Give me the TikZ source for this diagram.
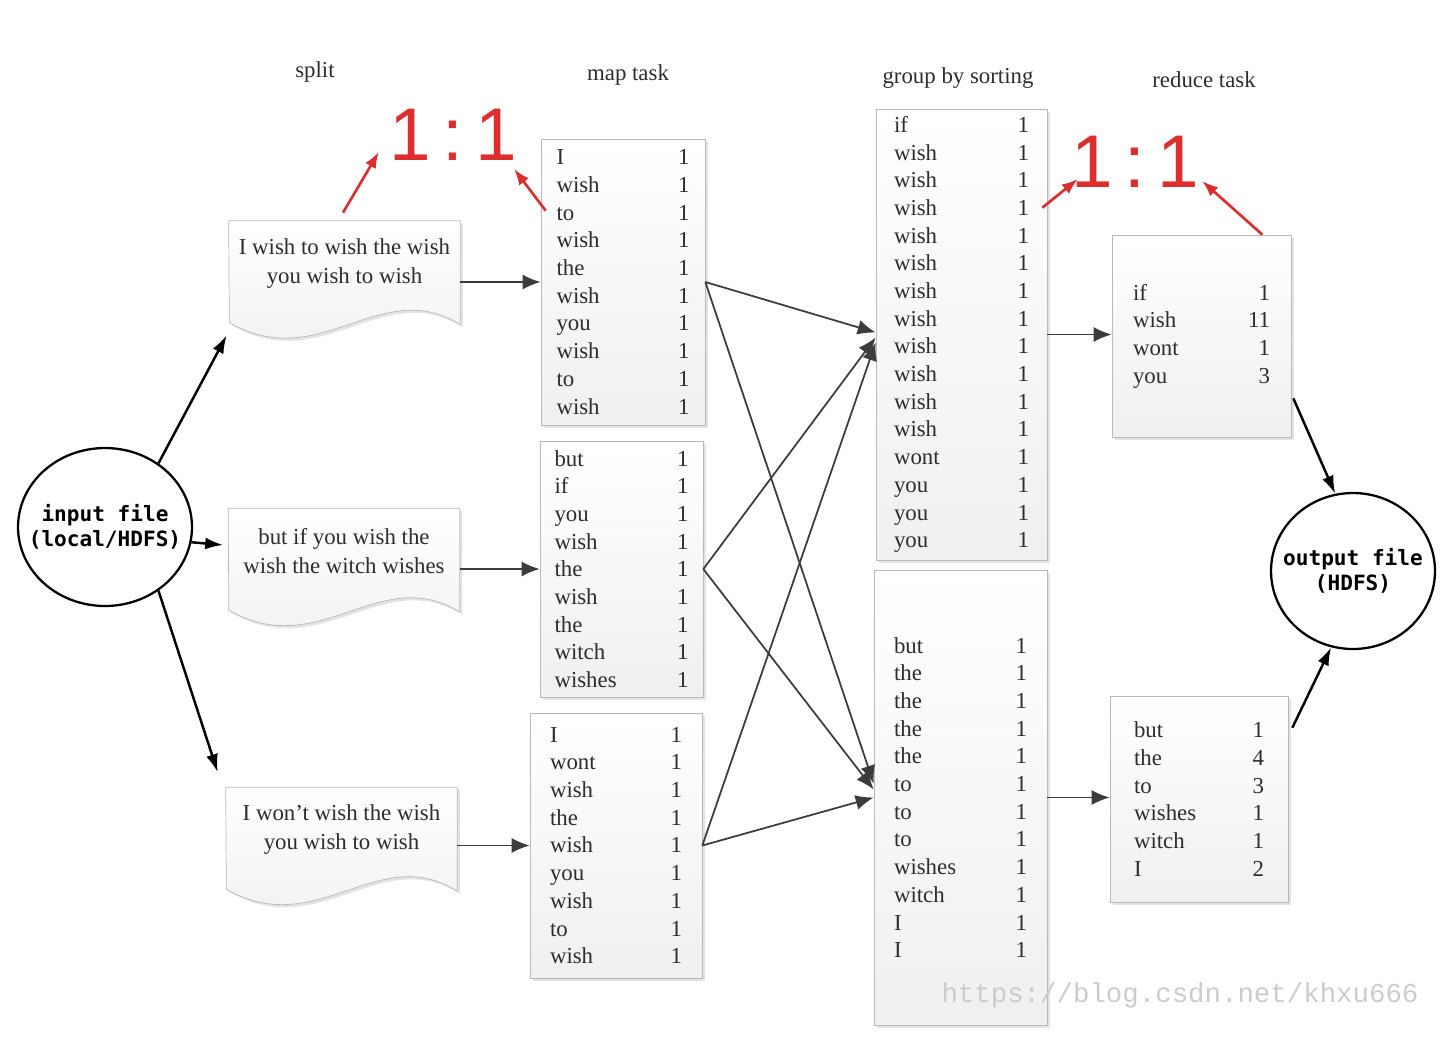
\documentclass[tikz,border=0pt]{standalone}
\usepackage{fontspec}
\setmainfont{Liberation Serif}
\newfontfamily\iofont{DejaVu Sans Mono}
\newfontfamily\ratiofont{Liberation Sans}
\newfontfamily\markfont{Liberation Mono}
\usetikzlibrary{shapes.geometric,arrows.meta,calc,shadows,backgrounds}

\definecolor{ratiored}{RGB}{222,45,45}
\definecolor{inkgray}{RGB}{45,45,45}
\definecolor{linegray}{RGB}{60,60,60}

\tikzset{
  wordbox/.style={draw=gray!55, line width=0.4pt, top color=white, bottom color=gray!12,
    drop shadow={opacity=0.22, shadow xshift=1.5pt, shadow yshift=-1.5pt},
    inner sep=0pt, align=left, text=inkgray, font=\fontsize{13}{15.76}\selectfont},
  docbox/.style={minimum width=4.62cm, minimum height=1.7cm, inner sep=0pt, align=center,
    text=inkgray, font=\fontsize{13}{16.5}\selectfont},
  docline/.style={draw=gray!55, line width=0.4pt, top color=white, bottom color=gray!12,
    drop shadow={opacity=0.22, shadow xshift=1.5pt, shadow yshift=-1.5pt}},
  iofile/.style={ellipse, draw, line width=1.3pt, inner sep=0pt},
  iotext/.style={align=center, font=\iofont\bfseries\fontsize{12}{14}\selectfont},
  title/.style={text=inkgray, font=\fontsize{13}{15}\selectfont},
  ratio/.style={text=ratiored, inner sep=0pt, font=\ratiofont\fontsize{42.5}{45}\selectfont},
  watermark/.style={text=gray!40, font=\markfont\fontsize{15.6}{17}\selectfont},
  blackarrow/.style={line width=1.4pt, -{Latex[length=0.36cm,width=0.24cm]}},
  grayarrow/.style={draw=linegray, line width=1pt, -{Latex[length=0.36cm,width=0.3cm]}},
  redarrow/.style={draw=ratiored, line width=1.5pt, -{Latex[length=0.32cm,width=0.24cm]}},
}

\begin{document}
\begin{tikzpicture}[x=0.02cm,y=-0.02cm]
\useasboundingbox (0,0) rectangle (1450,1036);

% column titles
\node[title] (tsplit) at (315,72) {split};
\node[title] (tmap) at (628,75) {map task};
\node[title] (tgroup) at (958,78) {group by sorting};
\node[title] (treduce) at (1204,80) {reduce task};

% input and output files
\node[iofile, minimum width=3.48cm, minimum height=3.16cm,
  label={[iotext]center:input file\\(local/HDFS)}] (input) at (105,527) {};
\node[iofile, minimum width=3.28cm, minimum height=3.12cm,
  label={[iotext]center:output file\\(HDFS)}] (output) at (1353,571) {};

% split
\node[docbox] (doc1) at (344.5,263.5) {I wish to wish the wish\\you wish to wish};
\node[docbox] (doc2) at (344,551) {but if you wish the\\wish the witch wishes};
\node[docbox] (doc3) at (341.5,830) {I won't wish the wish\\you wish to wish};
\begin{scope}[on background layer]
\foreach \d in {doc1,doc2,doc3}
  \path[docline] (\d.north west) -- (\d.north east) -- ++(0,104)
    .. controls +(-80,-50) and +(91,52) .. ++(-231,-2) -- cycle;
\end{scope}

% map task
\node[wordbox, minimum width=3.28cm, minimum height=5.72cm, text width=2.66cm] (map1) at (623,282)
  {I\hfill 1\\wish\hfill 1\\to\hfill 1\\wish\hfill 1\\the\hfill 1\\wish\hfill 1\\you\hfill 1\\wish\hfill 1\\to\hfill 1\\wish\hfill 1};
\node[wordbox, minimum width=3.26cm, minimum height=5.12cm, text width=2.68cm] (map2) at (621.5,569)
  {but\hfill 1\\if\hfill 1\\you\hfill 1\\wish\hfill 1\\the\hfill 1\\wish\hfill 1\\the\hfill 1\\witch\hfill 1\\wishes\hfill 1};
\node[wordbox, minimum width=3.44cm, minimum height=5.3cm, text width=2.64cm] (map3) at (616,845.5)
  {I\hfill 1\\wont\hfill 1\\wish\hfill 1\\the\hfill 1\\wish\hfill 1\\you\hfill 1\\wish\hfill 1\\to\hfill 1\\wish\hfill 1};

% group by sorting
\node[wordbox, minimum width=3.42cm, minimum height=9.02cm, text width=2.7cm] (group1) at (961.5,334.5)
  {if\hfill 1\\wish\hfill 1\\wish\hfill 1\\wish\hfill 1\\wish\hfill 1\\wish\hfill 1\\wish\hfill 1\\wish\hfill 1\\wish\hfill 1\\wish\hfill 1\\wish\hfill 1\\wish\hfill 1\\wont\hfill 1\\you\hfill 1\\you\hfill 1\\you\hfill 1};
\node[wordbox, minimum width=3.46cm, minimum height=9.1cm, text width=2.66cm] (group2) at (960.5,797.5)
  {but\hfill 1\\the\hfill 1\\the\hfill 1\\the\hfill 1\\the\hfill 1\\to\hfill 1\\to\hfill 1\\to\hfill 1\\wishes\hfill 1\\witch\hfill 1\\I\hfill 1\\I\hfill 1};

% reduce task
\node[wordbox, minimum width=3.58cm, minimum height=4.04cm, text width=2.74cm] (reduce1) at (1201.5,336)
  {if\hfill 1\\wish\hfill 11\\wont\hfill 1\\you\hfill 3};
\node[wordbox, minimum width=3.56cm, minimum height=4.12cm, text width=2.6cm] (reduce2) at (1199,799)
  {but\hfill 1\\the\hfill 4\\to\hfill 3\\wishes\hfill 1\\witch\hfill 1\\I\hfill 2};

% 1:1 marks
\node[ratio] (ratio1) at (453,135) {1\hspace{.16em}:\hspace{.16em}1};
\node[ratio] (ratio2) at (1135,162) {1\hspace{.16em}:\hspace{.16em}1};

% arrows
\draw[blackarrow] (input.50) -- ($(doc1.south west)+(-2,29)$);
\draw[blackarrow] (input.-10) -- ($(doc2.west)+(-5,-6)$);
\draw[blackarrow] (input.-50) -- ($(doc3.north west)+(-8,-15)$);

\draw[grayarrow] (doc1.east |- map1.west) -- (map1.west);
\draw[grayarrow] (doc2.east |- map2.west) -- (map2.west);
\draw[grayarrow] (doc3.east |- map3.west) -- (map3.west);

\draw[grayarrow] (map1.east) -- ($(group1.west)+(0,-2)$);
\draw[grayarrow] (map1.east) -- ($(group2.west)+(0,-14)$);
\draw[grayarrow] (map2.east) -- ($(group1.west)+(0,3)$);
\draw[grayarrow] (map2.east) -- ($(group2.west)+(0,-8)$);
\draw[grayarrow] (map3.east) -- ($(group1.west)+(0,8)$);
\draw[grayarrow] (map3.east) -- (group2.west);

\draw[grayarrow] (group1.east) -- (group1.east -| reduce1.west);
\draw[grayarrow] (group2.east) -- (group2.east -| reduce2.west);

\draw[blackarrow] ($(reduce1.south east)+(2,-39)$) -- (output.103);
\draw[blackarrow] ($(reduce2.north east)+(4,32)$) -- (output.-106);

\draw[redarrow] ($(doc1.north)+(-1.5,-8)$) -- ($(ratio1.south west)+(-10,-9)$);
\draw[redarrow] ($(map1.north west)+(5,72)$) -- ($(ratio1.south east)+(-3,8)$);
\draw[redarrow] ($(group1.north east)+(-5,99)$) -- ($(ratio2.south west)+(7,-9)$);
\draw[redarrow] ($(reduce1.north east)+(-29,0)$) -- ($(ratio2.south east)+(3,-7)$);

\node[watermark] (mark) at (1180,995) {https://blog.csdn.net/khxu666};
\end{tikzpicture}
\end{document}
